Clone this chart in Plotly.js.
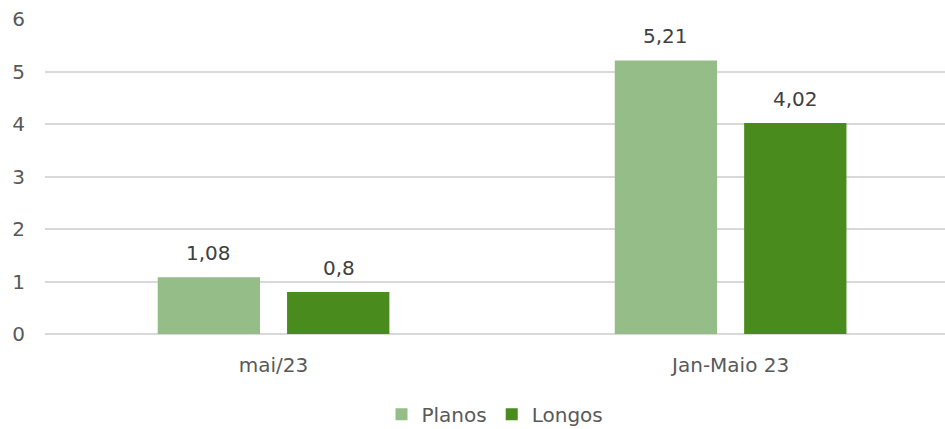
<!DOCTYPE html>
<html><head><meta charset="utf-8">
<script src="https://cdn.plot.ly/plotly-3.0.1.min.js"></script>
<style>html,body{margin:0;padding:0;background:#fff}#chart{width:945px;height:429px}</style>
</head><body><div id="chart"></div>
<script>
const categories = ["mai/23", "Jan-Maio 23"];
const planos = [1.08, 5.21];
const longos = [0.8, 4.02];
const seriesNames = ["Planos", "Longos"];
const colors = ["#95BD88", "#4A8B1E"];
const yTicks = [0, 1, 2, 3, 4, 5, 6];

const font = "DejaVu Sans";
const traces = [planos, longos].map((vals, i) => ({
  type: "bar", name: seriesNames[i], x: categories, y: vals,
  marker: {color: colors[i]}, hoverinfo: "skip"
}));

const annotations = [];
[planos, longos].forEach((vals, i) => {
  vals.forEach((v, j) => {
    annotations.push({
      x: categories[j], y: v, xref: "x", yref: "y",
      text: String(v).replace(".", ","), showarrow: false,
      xshift: i === 0 ? -65 : 65, yshift: 24, yanchor: "middle",
      font: {family: font, size: 20, color: "#404040"}
    });
  });
});

const layout = {
  width: 945, height: 429,
  margin: {l: 45, r: 0, t: 19, b: 95, autoexpand: false},
  paper_bgcolor: "#fff", plot_bgcolor: "#fff",
  barmode: "group", bargap: 0.434, bargroupgap: 0.209,
  separators: ", ",
  showlegend: true,
  legend: {orientation: "h", x: 0.5, xanchor: "center", y: -0.255, yanchor: "middle",
    font: {family: font, size: 20, color: "#595959"}, itemwidth: 30, tracegroupgap: 0},
  xaxis: {type: "category", range: [-0.5, 1.469], showgrid: false, zeroline: false,
    showline: false, ticks: "", ticklabelstandoff: 17,
    tickfont: {family: font, size: 20, color: "#595959"}},
  yaxis: {range: [0, 6], tickvals: yTicks, ticktext: yTicks.map(String),
    showgrid: true, gridcolor: "#d9d9d9", gridwidth: 2, zeroline: true,
    zerolinecolor: "#d9d9d9", zerolinewidth: 2, showline: false, ticks: "",
    ticklabelstandoff: 19,
    tickfont: {family: font, size: 20, color: "#595959"}},
  annotations: annotations
};
Plotly.newPlot("chart", traces, layout, {displayModeBar: false, staticPlot: true});
</script></body></html>
